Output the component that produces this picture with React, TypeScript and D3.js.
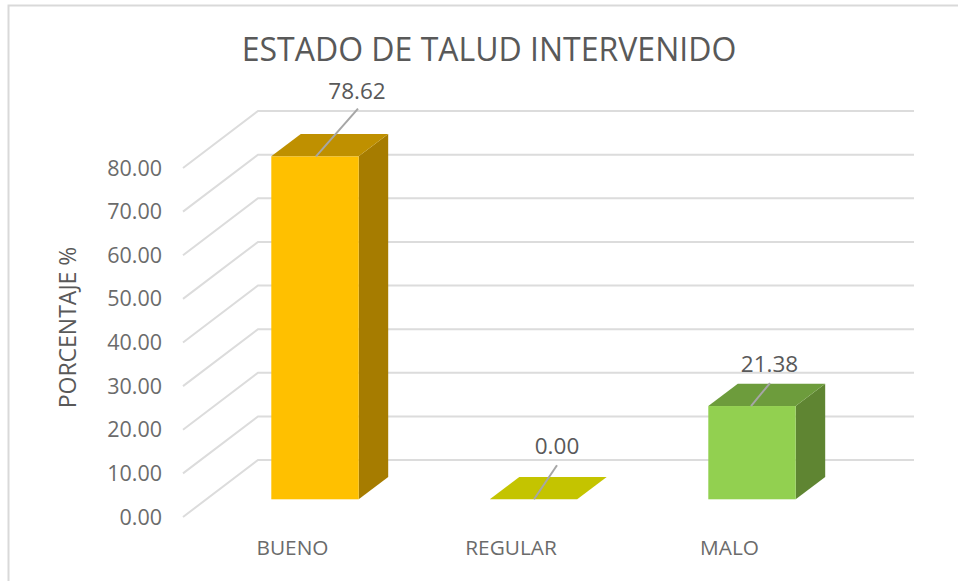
import React from "react";
import * as d3 from "d3";

const categories = ["BUENO", "REGULAR", "MALO"];
const values = [78.62, 0, 21.38];
const frontColors = ["#ffc000", "#c4c400", "#92d050"];
const topColors = ["#bf9000", "#c4c400", "#6d9c3c"];
const sideColors = ["#a67c00", "#c4c400", "#5f8532"];
const ticks = [0, 10, 20, 30, 40, 50, 60, 70, 80];

const W = 958, H = 581;
const FONT = "'Open Sans', 'Noto Sans', sans-serif";

// Back-wall scale; floor and bar planes are offset from it.
const y = d3.scaleLinear().domain([0, 80]).range([460, 111]);
const x = d3.scaleBand<string>().domain(categories).range([205.75, 861.25]).paddingInner(0.6).paddingOuter(0.3);

const WALL_LEFT = 258, WALL_RIGHT = 914;
const FLOOR_DX = -75, FLOOR_DY = 57;
const BAR_FRONT_DY = 39.3, DEPTH_X = 29.5, DEPTH_Y = -22.3;
const LABEL_ANCHOR = [
  { sx: 1, ex: 43, ey: -47.7, ty: -57.7, tx: 42 },
  { sx: 0.5, ex: 23.5, ey: -34, ty: -45, tx: 23.5 },
  { sx: -1, ex: 18, ey: -23, ty: -34, tx: 17.5 },
];

const pts = (p: number[][]) => p.map((q) => q.join(",")).join(" ");

export default function App() {
  const bw = x.bandwidth();
  return (
    <svg width={W} height={H} viewBox={`0 0 ${W} ${H}`} style={{ position: "absolute", left: 0, top: 0, background: "#fff" }}>
      <path d="M8.5 581 V5.5 H958" fill="none" stroke="#d9d9d9" strokeWidth={2} />
      <text x={489} y={61} textAnchor="middle" fontFamily={FONT} fontSize={32} fill="#595959">ESTADO DE TALUD INTERVENIDO</text>

      {ticks.map((t) => (
        <g key={t}>
          <polyline points={pts([[WALL_LEFT + FLOOR_DX, y(t) + FLOOR_DY], [WALL_LEFT, y(t)], [WALL_RIGHT, y(t)]])} fill="none" stroke="#dcdcdc" strokeWidth={2} />
          <text x={162} y={y(t) + 64.5} textAnchor="end" fontFamily={FONT} fontSize={21.5} fill="#6b6b6b">{t.toFixed(2)}</text>
        </g>
      ))}

      <text transform="translate(76,327.5) rotate(-90)" textAnchor="middle" fontFamily={FONT} fontSize={23} fill="#595959">PORCENTAJE %</text>

      {categories.map((c, i) => {
        const x0 = x(c)!, x1 = x0 + bw;
        const bottom = y(0) + BAR_FRONT_DY;
        const top = y(values[i]) + BAR_FRONT_DY;
        const a = LABEL_ANCHOR[i];
        const cx = x0 + bw / 2;
        return (
          <g key={c}>
            {values[i] > 0 && (
              <>
                <polygon points={pts([[x1, top], [x1 + DEPTH_X, top + DEPTH_Y], [x1 + DEPTH_X, bottom + DEPTH_Y], [x1, bottom]])} fill={sideColors[i]} />
                <rect x={x0} y={top} width={bw} height={bottom - top} fill={frontColors[i]} />
              </>
            )}
            <polygon points={pts([[x0, top], [x0 + DEPTH_X, top + DEPTH_Y], [x1 + DEPTH_X, top + DEPTH_Y], [x1, top]])} fill={topColors[i]} />
            <line x1={cx + a.sx} y1={top} x2={cx + a.ex} y2={top + a.ey} stroke="#a6a6a6" strokeWidth={2} />
            <text x={cx + a.tx} y={top + a.ty} textAnchor="middle" fontFamily={FONT} fontSize={22.5} fill="#595959">{values[i].toFixed(2)}</text>
            <text x={cx - 22.5} y={554.5} textAnchor="middle" fontFamily={FONT} fontSize={20.8} fill="#6b6b6b">{c}</text>
          </g>
        );
      })}
    </svg>
  );
}
